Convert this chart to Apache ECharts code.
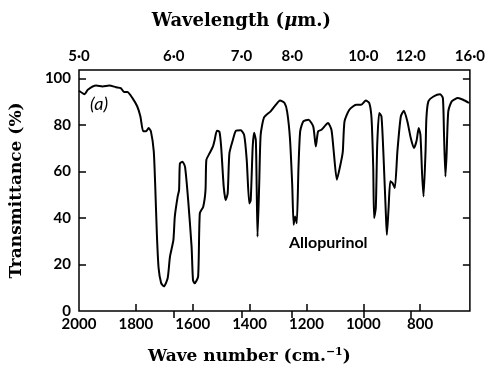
<!DOCTYPE html>
<html>
<head>
<meta charset="utf-8">
<script src="https://cdn.jsdelivr.net/npm/echarts@6/dist/echarts.min.js"></script>
<style>
  html, body { margin: 0; padding: 0; background: #fff; }
  #chart { width: 488px; height: 372px; }
</style>
</head>
<body>
<div id="chart"></div>
<script>
// spectrum trace: wave number (cm-1) and transmittance (%)
const waveNumbers = [
  2000, 1980, 1969, 1940, 1917, 1893, 1870, 1853, 1841, 1830, 1812, 1795, 1784, 1774, 1764, 1755, 1747,
  1737, 1732, 1726, 1720, 1711, 1701, 1688, 1680, 1668, 1663, 1653, 1648, 1645, 1636, 1627, 1616, 1604,
  1599, 1593, 1581, 1575, 1563, 1555, 1552, 1541, 1529, 1523, 1515, 1506, 1500, 1491, 1484, 1477, 1471,
  1459, 1448, 1431, 1419, 1410, 1401, 1396, 1389, 1384, 1378, 1375, 1372, 1366, 1361, 1349, 1326, 1308,
  1293, 1277, 1268, 1258, 1250, 1245, 1240, 1234, 1228, 1222, 1211, 1193, 1176, 1167, 1159, 1147, 1124,
  1112, 1104, 1093, 1078, 1072, 1066, 1049, 1025, 1008, 991, 979, 971, 965, 962, 956, 951, 944, 936,
  929, 920, 917, 911, 905, 897, 889, 880, 868, 857, 845, 833, 822, 813, 805, 799, 793, 788, 781, 778,
  771, 753, 730, 720, 716, 711, 707, 701, 689, 667, 649, 628
];
const transmittance = [
  94.8, 93.3, 95.2, 97, 96.6, 97, 96.3, 95.9, 94.2, 94.2, 91.6, 88, 83.7, 77.3, 77.3, 78.7, 77.3,
  68.7, 54.3, 32.8, 18.5, 12, 10.6, 14.2, 23.4, 30.5, 40.6, 49.2, 52, 63.5, 64.2, 62, 47.7, 27.7,
  13.3, 11.9, 14.8, 42, 44.9, 52, 65, 67.8, 70.7, 73.5, 77.6, 77.1, 70.7, 53.5, 47.7, 50.6, 67.8,
  73.5, 77.6, 77.8, 75.7, 65, 46.3, 47.7, 70.7, 76.7, 73.5, 53.5, 32, 55, 75.8, 83.3, 85.9, 88.7,
  90.6, 89.5, 85.9, 74.4, 54.3, 37.1, 40.7, 37.8, 61.5, 77.3, 81.6, 82.3, 79.4, 70.8, 77.3, 78, 80.9,
  78, 68.7, 56.5, 64.4, 68.7, 81.6, 86.6, 88.7, 88.7, 90.6, 89.5, 83, 61.5, 40, 44.3, 71.5, 85.2, 83.7,
  67.2, 40, 32.8, 44.3, 55.8, 55, 52.9, 68.7, 83.7, 86.2, 81.6, 74.4, 70.1, 73, 78.7, 75.8, 58.6, 49.3, 68.7, 83,
  90.2, 92.3, 93.3, 91.6, 75.8, 57.9, 67.2, 85.9, 90.2, 91.6, 90.9, 89.5
];

const waveTicks = [2000, 1800, 1600, 1400, 1200, 1000, 800];
const lengthTicks = [5, 6, 7, 8, 10, 12, 16];          // micrometres
const yTicks = [0, 20, 40, 60, 80, 100];

const labelFont = { fontFamily: 'Lato', fontWeight: 'bold', fontSize: 15, color: '#000' };
const titleFont = { fontFamily: 'DejaVu Serif', fontWeight: 'bold', fontSize: 17, color: '#000' };

const lengthAsWave = lengthTicks.map(l => 10000 / l);
const fmtLength = v => (10000 / v).toFixed(1).replace('.', '\u00b7');

const chart = echarts.init(document.getElementById('chart'), null, { renderer: 'canvas' });

chart.setOption({
  animation: false,
  backgroundColor: '#fff',
  grid: {
    left: 76, right: 16, top: 70, bottom: 61,
    show: true, borderColor: '#000', borderWidth: 1.5,
  },
  xAxis: [
    {
      type: 'value', inverse: true, min: 625, max: 2000,
      position: 'bottom',
      axisLine: { show: false },
      splitLine: { show: false },
      axisTick: { inside: true, length: 7, customValues: waveTicks.slice(1),
        lineStyle: { color: '#000', width: 1.5 } },
      axisLabel: { ...labelFont, margin: 6, customValues: waveTicks, showMinLabel: true, showMaxLabel: true,
        formatter: v => String(v) },
      name: 'Wave number (cm.{s|\u22121})',
      nameLocation: 'middle', nameGap: 36,
      nameTextStyle: { ...titleFont, padding: [0, 50, 0, 0],
        rich: { s: { ...titleFont, fontSize: 11, verticalAlign: 'top', padding: [0, 0, 8, 0] } } },
    },
    {
      type: 'value', inverse: true, min: 625, max: 2000,
      position: 'top',
      axisLine: { show: false },
      splitLine: { show: false },
      axisTick: { inside: true, length: 7, customValues: lengthAsWave.slice(1, -1),
        lineStyle: { color: '#000', width: 1.5 } },
      axisLabel: { ...labelFont, margin: 6, customValues: lengthAsWave, showMinLabel: true, showMaxLabel: true,
        formatter: fmtLength },
      name: 'Wavelength ({i|\u03bc}m.)',
      nameLocation: 'middle', nameGap: 40,
      nameTextStyle: { ...titleFont, fontSize: 18, padding: [0, 66, 0, 0],
        rich: { i: { ...titleFont, fontSize: 18, fontStyle: 'italic' } } },
    },
  ],
  yAxis: [
    {
      type: 'value', min: 0, max: 103.7, position: 'left',
      axisLine: { show: false },
      splitLine: { show: false },
      axisTick: { inside: true, length: 7, customValues: yTicks.slice(1),
        lineStyle: { color: '#000', width: 1.5 } },
      axisLabel: { ...labelFont, margin: 8, customValues: yTicks },
      name: 'Transmittance (%)',
      nameLocation: 'middle', nameGap: 54, nameRotate: 90,
      nameTextStyle: titleFont,
    },
    {
      type: 'value', min: 0, max: 103.7, position: 'right',
      axisLine: { show: false },
      splitLine: { show: false },
      axisTick: { inside: true, length: 7, customValues: yTicks.slice(1),
        lineStyle: { color: '#000', width: 1.5 } },
      axisLabel: { show: false },
    },
  ],
  series: [
    {
      type: 'line',
      data: waveNumbers.map((w, i) => [w, transmittance[i]]),
      showSymbol: false,
      smooth: 0.2,
      lineStyle: { color: '#000', width: 2 },
    },
  ],
  graphic: [
    { type: 'text', left: 90, top: 95,
      style: { text: '(a)', font: 'italic 18px Lato', fill: '#000' } },
    { type: 'text', left: 289, top: 235,
      style: { text: 'Allopurinol', font: 'bold 16px Lato', fill: '#000' } },
  ],
});
</script>
</body>
</html>
